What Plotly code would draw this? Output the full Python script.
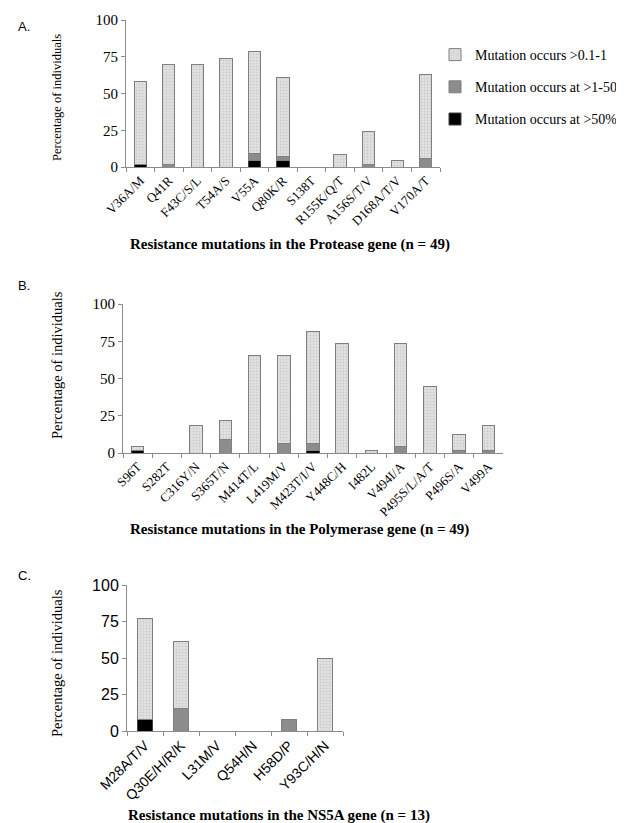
import plotly.graph_objects as go

# ---------------- data ----------------
cats_a = ["V36A/M", "Q41R", "F43C/S/L", "T54A/S", "V55A", "Q80K/R", "S138T",
          "R155K/Q/T", "A156S/T/V", "D168A/T/V", "V170A/T"]
black_a = [2.0, 0, 0, 0, 4.1, 4.1, 0, 0, 0, 0, 0]
gray_a = [0, 2.0, 0, 0, 4.9, 3.0, 0, 0, 2.0, 0, 6.1]
light_a = [56.2, 67.4, 69.4, 73.5, 69.9, 54.1, 0, 8.2, 22.4, 4.1, 57.1]

cats_b = ["S96T", "S282T", "C316Y/N", "S365T/N", "M414T/L", "L419M/V", "M423T/I/V",
          "Y448C/H", "I482L", "V494I/A", "P495S/L/A/T", "P496S/A", "V499A"]
black_b = [2.0, 0, 0, 0, 0, 0, 2.0, 0, 0, 0, 0, 0, 0]
gray_b = [0, 0, 0, 9.2, 0, 6.1, 4.1, 0, 0, 4.1, 0, 2.0, 2.0]
light_b = [2.1, 0, 18.4, 12.3, 65.3, 59.2, 75.5, 73.5, 2.0, 69.4, 44.9, 10.2, 16.3]

cats_c = ["M28A/T/V", "Q30E/H/R/K", "L31M/V", "Q54H/N", "H58D/P", "Y93C/H/N"]
black_c = [7.7, 0, 0, 0, 0, 0]
gray_c = [0, 15.4, 0, 0, 7.7, 0]
light_c = [69.2, 46.2, 0, 0, 0, 50.0]

y_ticks = [0, 25, 50, 75, 100]
series_names = ["Mutation occurs at >50%", "Mutation occurs at >1-50", "Mutation occurs >0.1-1"]
legend_ranks = [3, 2, 1]

# ---------------- styles ----------------
W, H = 624, 823
SERIF = "Liberation Serif"
SANS = "Liberation Sans"
AX = "#8c8c8c"
BAR_LINE = "#7f7f7f"

def px_x(p):
    return p / W

def px_y(p):
    return 1 - p / H

fig = go.Figure()

def add_panel(cats, black, gray, light, xa, ya, show):
    styles = [
        dict(color="#000000", line=dict(color="#404040", width=1)),
        dict(color="#8c8c8c", line=dict(color=BAR_LINE, width=1)),
        dict(color="#dedede", line=dict(color=BAR_LINE, width=1),
             pattern=dict(shape=".", fgcolor="#b4b4b4", bgcolor="#e2e2e2", size=3, solidity=0.35)),
    ]
    for name, vals, st, rk in zip(series_names, [black, gray, light], styles, legend_ranks):
        yv = [v if v else None for v in vals]
        fig.add_trace(go.Bar(x=cats, y=yv, name=name, marker=st, xaxis=xa, yaxis=ya,
                             showlegend=show, legendrank=rk, legendgroup=name))

add_panel(cats_a, black_a, gray_a, light_a, "x", "y", True)
add_panel(cats_b, black_b, gray_b, light_b, "x2", "y2", False)
add_panel(cats_c, black_c, gray_c, light_c, "x3", "y3", False)

def xaxis(domain, anchor, n, font):
    return dict(domain=domain, anchor=anchor, range=[-0.5, n - 0.5], showline=True,
                linecolor=AX, linewidth=1, ticks="outside", tickson="boundaries",
                ticklen=4, tickcolor=AX, tickangle=-45, tickfont=font,
                showgrid=False, zeroline=False, fixedrange=True, automargin=False)

def yaxis(domain, anchor, font):
    return dict(domain=domain, anchor=anchor, range=[0, 100], tickvals=y_ticks,
                showline=True, linecolor=AX, linewidth=1, ticks="outside",
                ticklen=4, tickcolor=AX, tickfont=font, showgrid=False,
                zeroline=False, fixedrange=True, automargin=False)

serif_tick = dict(family=SERIF, size=13, color="#000")
serif_ytick = dict(family=SERIF, size=15, color="#000")
sans_tick = dict(family=SANS, size=14, color="#000")
sans_ytick = dict(family=SANS, size=16, color="#000")

fig.update_layout(
    width=W, height=H, autosize=False,
    margin=dict(l=0, r=0, t=0, b=0, autoexpand=False),
    paper_bgcolor="white", plot_bgcolor="white",
    barmode="stack", bargap=0.57,
    font=dict(family=SERIF, color="#000"),
    xaxis=xaxis([px_x(118), px_x(432)], "y", len(cats_a), serif_tick),
    yaxis=yaxis([px_y(159), px_y(12)], "x", serif_ytick),
    xaxis2=xaxis([px_x(115), px_x(495)], "y2", len(cats_b), serif_tick),
    yaxis2=yaxis([px_y(445), px_y(296)], "x2", serif_ytick),
    xaxis3=xaxis([px_x(119), px_x(335)], "y3", len(cats_c), sans_tick),
    yaxis3=yaxis([px_y(723), px_y(577)], "x3", sans_ytick),
    legend=dict(x=px_x(427), y=px_y(31), xanchor="left", yanchor="top",
                traceorder="grouped", tracegroupgap=11, itemwidth=30,
                font=dict(family=SERIF, size=14, color="#000"),
                bgcolor="rgba(0,0,0,0)"),
)

ann = []
# panel letters
for lab, y in [("A.", 18), ("B.", 277), ("C.", 567)]:
    ann.append(dict(text=lab, x=px_x(8), y=px_y(y), xref="paper", yref="paper",
                    xanchor="left", yanchor="middle", showarrow=False,
                    font=dict(family=SANS, size=13, color="#000")))
# y titles
for y, size in [(90, 12.5), (357, 14.5), (655, 14.5)]:
    ann.append(dict(text="Percentage of individuals", x=px_x(49), y=px_y(y),
                    xref="paper", yref="paper", textangle=-90, showarrow=False,
                    xanchor="center", yanchor="middle",
                    font=dict(family=SERIF, size=size, color="#000")))
# x titles
for txt, x, y in [("Resistance mutations in the Protease gene (n = 49)", 282, 236),
                  ("Resistance mutations in the Polymerase gene (n = 49)", 291, 521),
                  ("Resistance mutations in the NS5A gene (n = 13)", 271, 807)]:
    ann.append(dict(text="<b>" + txt + "</b>", x=px_x(x), y=px_y(y), xref="paper",
                    yref="paper", xanchor="center", yanchor="middle", showarrow=False,
                    font=dict(family=SERIF, size=15, color="#000")))
fig.update_layout(annotations=ann)

fig.write_html("out.html")
